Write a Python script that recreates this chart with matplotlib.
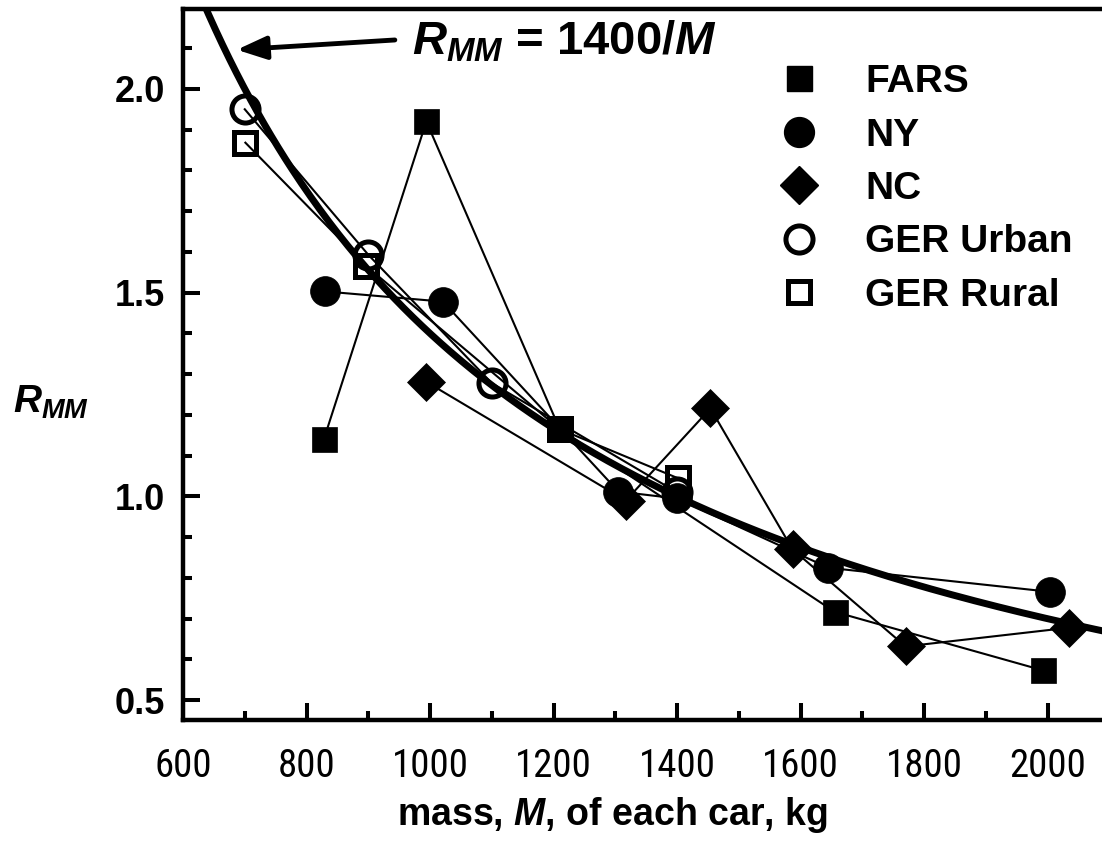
import numpy as np
import matplotlib.pyplot as plt
from matplotlib import font_manager as fm
from matplotlib.lines import Line2D
from matplotlib.ticker import MultipleLocator, FormatStrFormatter

plt.rcParams['font.family'] = ['Liberation Sans', 'DejaVu Sans']
plt.rcParams['mathtext.fontset'] = 'custom'
plt.rcParams['mathtext.rm'] = 'Liberation Sans:bold'
plt.rcParams['mathtext.it'] = 'Liberation Sans:italic:bold'
plt.rcParams['mathtext.bf'] = 'Liberation Sans:bold'

# data
fars_m = [828, 994, 1210, 1655, 1993]
fars_r = [1.14, 1.92, 1.165, 0.717, 0.573]

ny_m = [830, 1021, 1305, 1400, 1645, 2004]
ny_r = [1.503, 1.478, 1.012, 0.995, 0.825, 0.766]

nc_m = [993, 1317, 1454, 1587, 1770, 2035]
nc_r = [1.282, 0.99, 1.216, 0.87, 0.632, 0.678]

urban_m = [700, 900, 1100, 1400]
urban_r = [1.95, 1.593, 1.278, 1.01]

rural_m = [701, 897, 1210, 1401]
rural_r = [1.868, 1.565, 1.165, 1.045]

curve_k = 1400.0
curve_m = np.linspace(600, 2100, 400)

# narrow face for the x tick numbers, if one is installed
fonts = fm.fontManager.ttflist
narrow = None
for name in ['Liberation Sans Narrow', 'Roboto Condensed', 'Open Sans Condensed',
             'Noto Sans Condensed']:
    if any(f.name == name for f in fonts):
        narrow = dict(family=name, size=28)
        break
if narrow is None:
    for f in fonts:
        if f.name in ('DejaVu Sans', 'Noto Sans', 'Open Sans') and \
                str(f.stretch) in ('condensed', 'semi-condensed', 'extra-condensed'):
            narrow = dict(family=f.name, stretch=f.stretch, size=26)
            break
if narrow is None:
    narrow = dict(family='Liberation Sans', size=24)

fig = plt.figure(figsize=(11.02, 8.41), dpi=100)
ax = fig.add_axes([183/1102, 1 - 720/841, 919/1102, (720 - 9)/841])

ax.plot(curve_m, curve_k / curve_m, color='k', lw=5, zorder=2)

thin = dict(color='k', lw=1.5, zorder=3)
ax.plot(fars_m, fars_r, marker='s', ms=18, mfc='k', mec='k', mew=0.5, **thin)
ax.plot(ny_m, ny_r, marker='o', ms=21.5, mfc='k', mec='k', mew=0.5, **thin)
ax.plot(nc_m, nc_r, marker='D', ms=19, mfc='k', mec='k', mew=0.5, **thin)
ax.plot(urban_m, urban_r, marker='o', ms=19.5, mfc='none', mec='k', mew=3.6, **thin)
ax.plot(rural_m, rural_r, marker='s', ms=16.5, mfc='none', mec='k', mew=3.6, **thin)

ax.set_xlim(600, 2088)
ax.set_ylim(0.4515, 2.196)

ax.xaxis.set_major_locator(MultipleLocator(200))
ax.xaxis.set_minor_locator(MultipleLocator(100))
ax.yaxis.set_major_locator(MultipleLocator(0.5))
ax.yaxis.set_minor_locator(MultipleLocator(0.1))
ax.yaxis.set_major_formatter(FormatStrFormatter('%.1f'))

ax.spines['right'].set_visible(False)
for s in ['left', 'bottom', 'top']:
    ax.spines[s].set_linewidth(3.2)

ax.tick_params(which='major', direction='in', length=12, width=2.9)
ax.tick_params(which='minor', direction='in', length=6.5, width=2.9)
ax.tick_params(axis='y', which='major', pad=13, labelsize=26)
ax.tick_params(axis='x', which='major', pad=20)
for lab in ax.get_yticklabels():
    lab.set_fontweight('bold')
for lab in ax.get_xticklabels():
    lab.set_fontproperties(fm.FontProperties(**narrow))

ax.set_xlabel(r'mass, $M$, of each car, kg', fontsize=27, fontweight='bold')
ax.xaxis.set_label_coords(0.467, -0.105)
ax.set_ylabel(r'$R_{MM}$', fontsize=28, rotation=0, ha='center', va='center')
ax.yaxis.set_label_coords(-0.1436, 0.447)

ax.annotate('', xy=(687, 2.096), xytext=(943, 2.12),
            arrowprops=dict(arrowstyle='-|>,head_length=0.9,head_width=0.35',
                            lw=3.5, color='k', mutation_scale=20, shrinkA=0, shrinkB=0))
ax.text(970, 2.115, r'$R_{MM}$ = 1400/$M$', fontsize=34, fontweight='bold',
        ha='left', va='center')

handles = [
    Line2D([], [], ls='none', marker='s', ms=18, mfc='k', mec='k'),
    Line2D([], [], ls='none', marker='o', ms=21.5, mfc='k', mec='k'),
    Line2D([], [], ls='none', marker='D', ms=19, mfc='k', mec='k'),
    Line2D([], [], ls='none', marker='o', ms=19.5, mfc='none', mec='k', mew=3.6),
    Line2D([], [], ls='none', marker='s', ms=16.5, mfc='none', mec='k', mew=3.6),
]
labels = ['FARS', 'NY', 'NC', 'GER Urban', 'GER Rural']
ax.legend(handles, labels, loc='upper left', bbox_to_anchor=(768/1102, 1 - 64/841),
          bbox_transform=fig.transFigure, frameon=False, handlelength=1.6,
          handletextpad=0.9, labelspacing=0.45, borderpad=0, borderaxespad=0,
          prop={'size': 28, 'weight': 'bold'})

fig.savefig('out.png', dpi=100)
